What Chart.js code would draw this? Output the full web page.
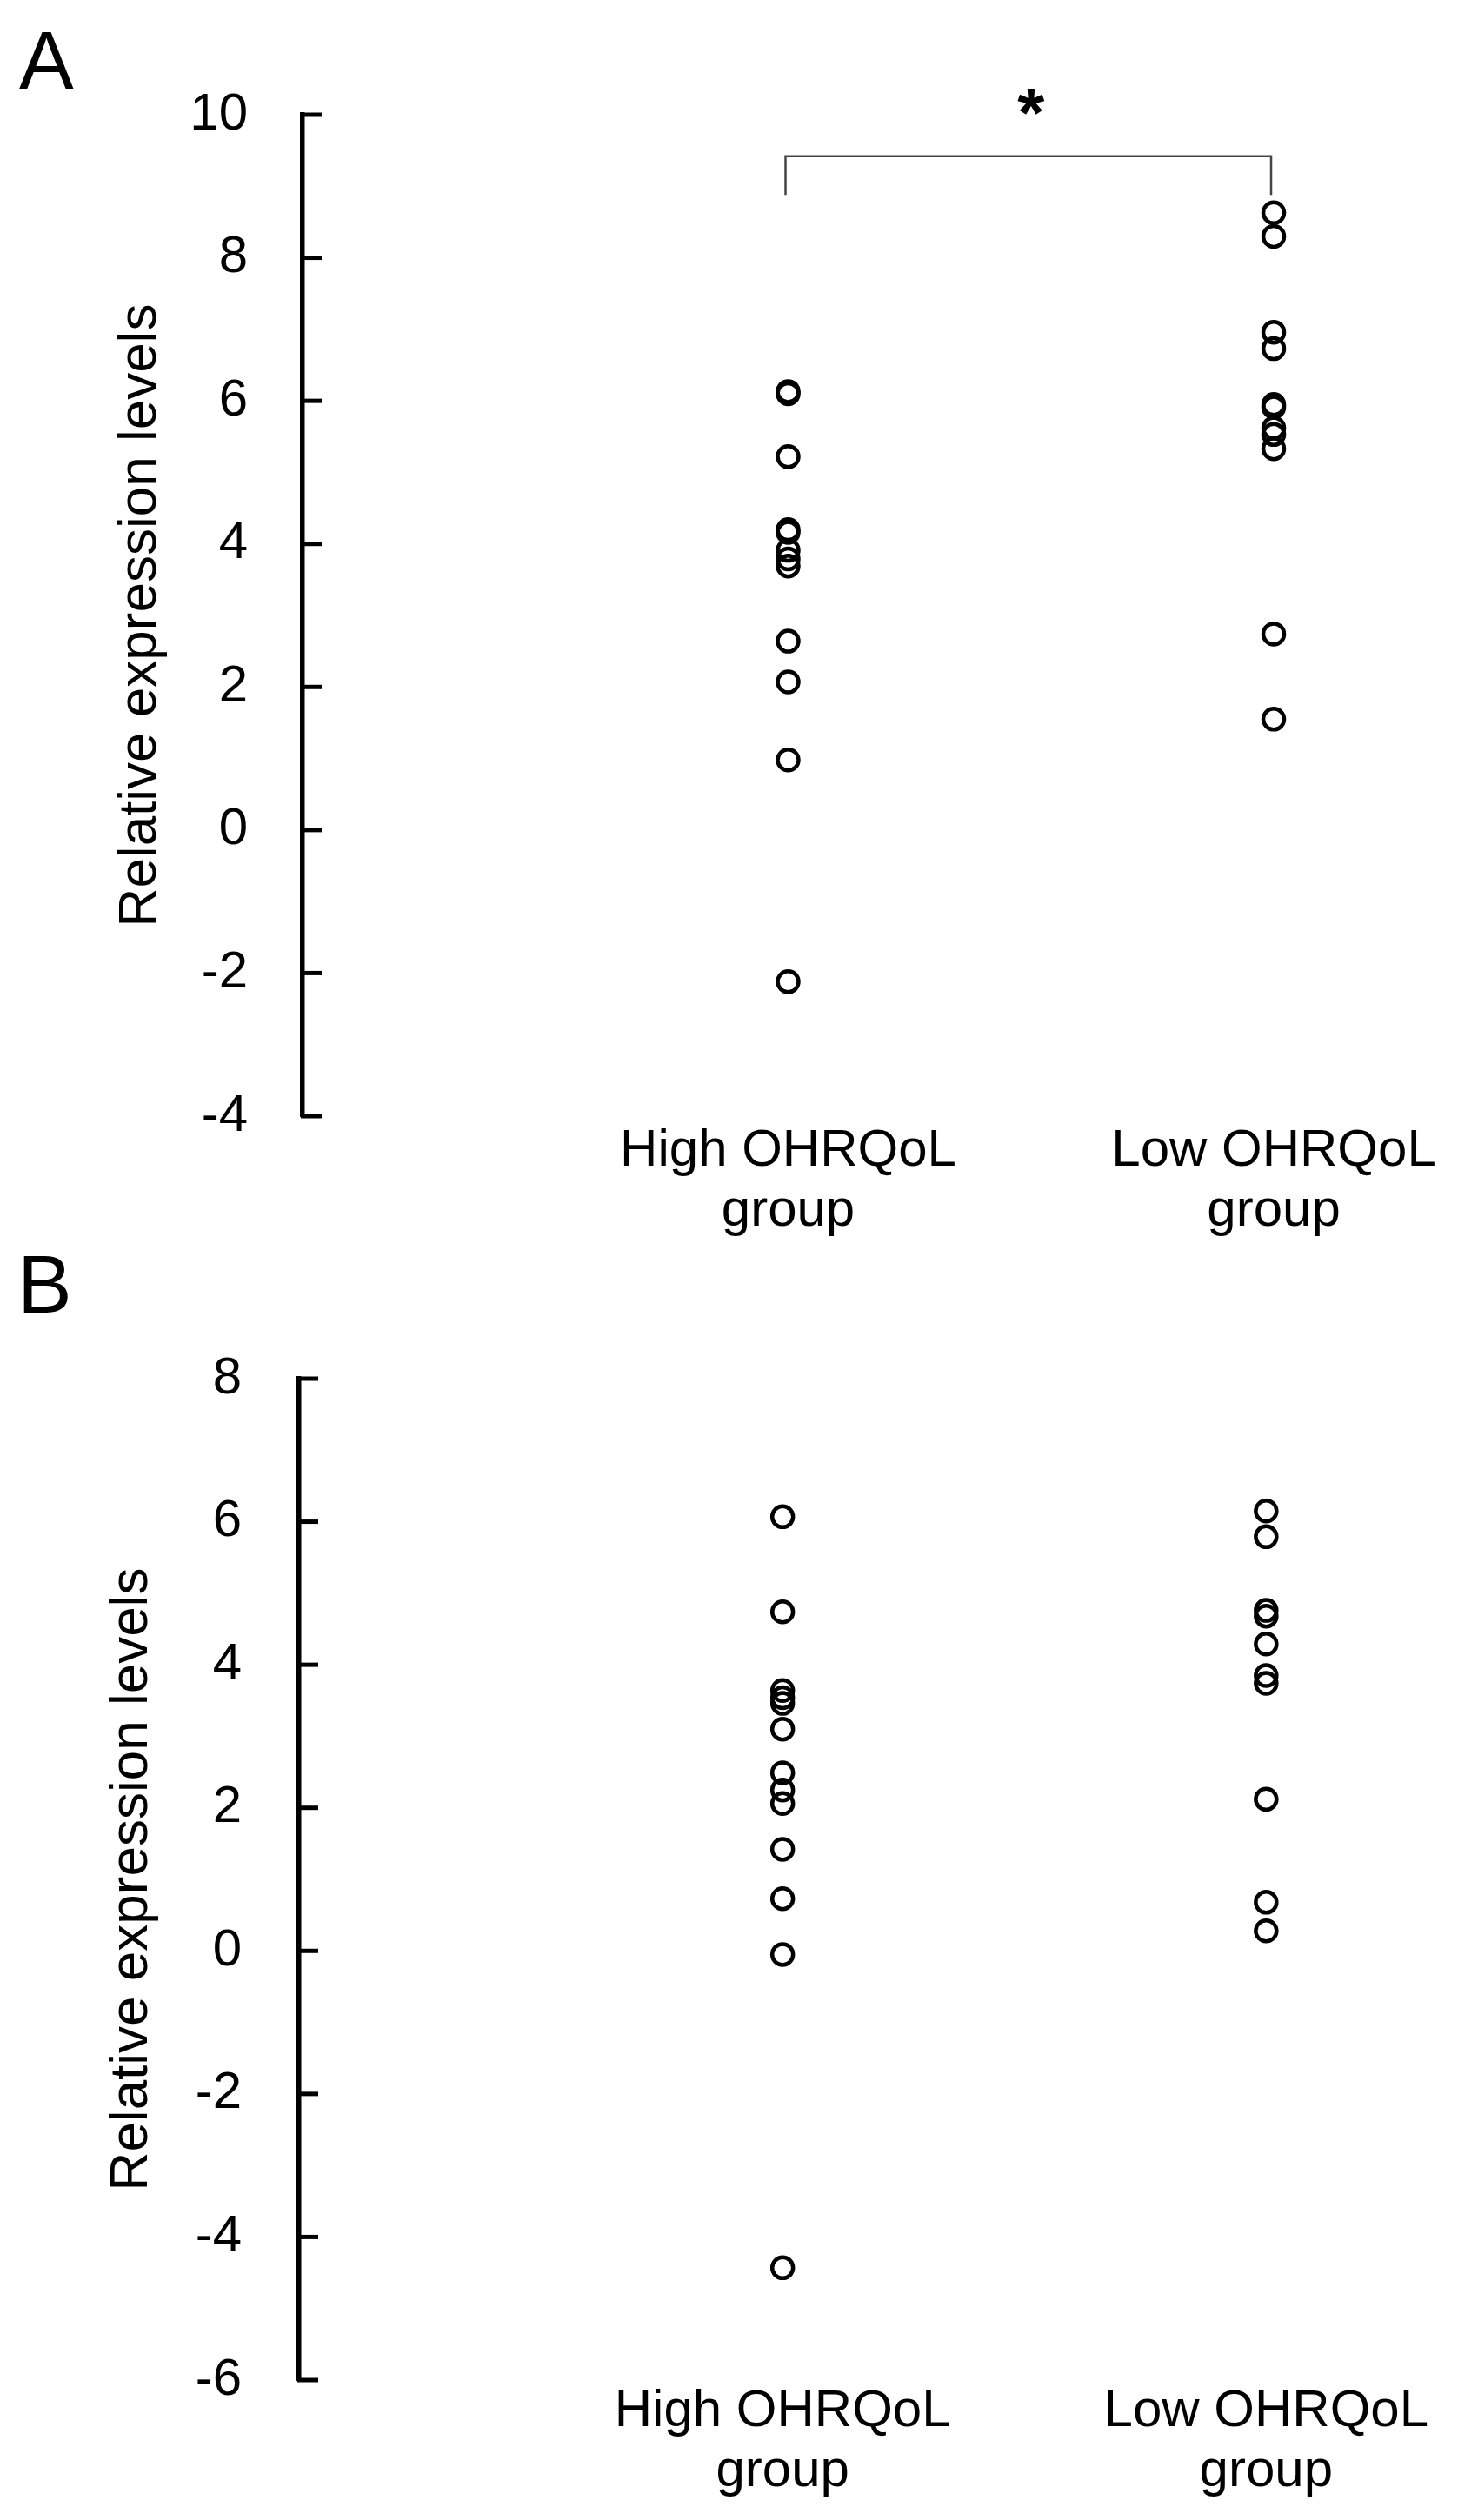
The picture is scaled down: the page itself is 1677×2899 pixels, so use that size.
<!DOCTYPE html>
<html lang="en">
<head>
<meta charset="UTF-8">
<title>Relative expression levels by OHRQoL group</title>
<script src="https://cdn.jsdelivr.net/npm/chart.js"></script>
<style>
  html, body { margin: 0; padding: 0; background: #fff; }
  canvas { display: block; }
</style>
</head>
<body>
<canvas id="chartA" width="1677" height="1440"></canvas>
<canvas id="chartB" width="1677" height="1459"></canvas>
<script>
// categories and labels
const groups = [['High OHRQoL', 'group'], ['Low OHRQoL', 'group']];
const yTitle = 'Relative expression levels';

// panel A values
const highA = [6.13, 6.10, 5.22, 4.20, 4.16, 3.91, 3.79, 3.69, 2.64, 2.07, 0.98, -2.12];
const lowA  = [8.63, 8.30, 6.96, 6.73, 5.95, 5.91, 5.62, 5.53, 5.33, 2.74, 1.55];
// panel B values
const highB = [6.07, 4.74, 3.64, 3.54, 3.46, 3.10, 2.49, 2.25, 2.06, 1.42, 0.73, -0.05, -4.43];
const lowB  = [6.15, 5.79, 4.76, 4.68, 4.29, 3.85, 3.74, 2.12, 0.68, 0.28];

// axis ranges
const rangeA = [-4, 10];
const rangeB = [-6, 8];
const tickStep = 2;

// significance bracket in panel A (data units)
const bracketLevel = 9.42, bracketLegEnd = 8.88, starLevel = 10.18, starText = '*';

const FONT = 'Liberation Sans, Arial, sans-serif';
Chart.defaults.font.family = FONT;
Chart.defaults.color = '#000';

// tick marks point inward, to the right of the axis
const inwardTicks = {
  id: 'inwardTicks',
  afterDraw(chart) {
    const {ctx, chartArea, scales: {y}} = chart;
    ctx.save();
    ctx.strokeStyle = '#000';
    ctx.lineWidth = 5;
    y.ticks.forEach(t => {
      const py = y.getPixelForValue(t.value);
      ctx.beginPath();
      ctx.moveTo(chartArea.left - 2, py);
      ctx.lineTo(chartArea.left + 22, py);
      ctx.stroke();
    });
    ctx.restore();
  }
};

const panelLetter = {
  id: 'panelLetter',
  afterDraw(chart, args, opts) {
    const ctx = chart.ctx;
    ctx.save();
    ctx.fillStyle = '#000';
    ctx.font = '94px ' + FONT;
    ctx.textBaseline = 'alphabetic';
    ctx.fillText(opts.text, opts.x, opts.y);
    ctx.restore();
  }
};

const sigBracket = {
  id: 'sigBracket',
  afterDraw(chart) {
    const {ctx, scales: {x, y}} = chart;
    const x1 = x.getPixelForValue(1), x2 = x.getPixelForValue(2);
    const yt = y.getPixelForValue(bracketLevel), yb = y.getPixelForValue(bracketLegEnd);
    ctx.save();
    ctx.strokeStyle = '#444';
    ctx.lineWidth = 2.5;
    ctx.beginPath();
    ctx.moveTo(x1 - 3, yb);
    ctx.lineTo(x1 - 3, yt);
    ctx.lineTo(x2 - 3, yt);
    ctx.lineTo(x2 - 3, yb);
    ctx.stroke();
    ctx.fillStyle = '#000';
    ctx.font = 'bold 80px ' + FONT;
    ctx.textAlign = 'center';
    ctx.textBaseline = 'alphabetic';
    const m = ctx.measureText(starText);
    const cy = y.getPixelForValue(starLevel);
    ctx.fillText(starText, (x1 + x2) / 2, cy + (m.actualBoundingBoxAscent - m.actualBoundingBoxDescent) / 2);
    ctx.restore();
  }
};

function buildChart(id, high, low, range, cfg, extra) {
  return new Chart(document.getElementById(id), {
    type: 'scatter',
    data: {
      datasets: [high, low].map((vals, i) => ({
        data: vals.map(v => ({x: i + 1, y: v})),
        pointStyle: 'circle',
        pointRadius: 12,
        pointHoverRadius: 12,
        pointBorderWidth: 4.5,
        pointBackgroundColor: 'rgba(0,0,0,0)',
        pointBorderColor: '#000',
        clip: false
      }))
    },
    options: {
      responsive: false,
      animation: false,
      devicePixelRatio: 1,
      events: [],
      layout: {padding: {left: cfg.padLeft, top: cfg.top, right: cfg.right, bottom: 0}},
      plugins: {
        legend: {display: false},
        tooltip: {enabled: false},
        panelLetter: cfg.letter
      },
      scales: {
        x: {
          type: 'linear', min: 0, max: 2.35,
          grid: {display: false, drawTicks: false},
          border: {display: false},
          afterBuildTicks: s => { s.ticks = groups.map((g, i) => ({value: i + 1})); },
          afterFit: s => { s.height = cfg.xHeight; },
          ticks: {
            callback: v => groups[v - 1],
            font: {size: 60, lineHeight: 1.15},
            padding: cfg.labelPad, maxRotation: 0, autoSkip: false
          }
        },
        y: {
          min: range[0], max: range[1],
          grid: {display: true, drawOnChartArea: false, drawTicks: false},
          border: {display: true, color: '#000', width: 5.5},
          afterFit: s => { s.width = cfg.axisX - cfg.padLeft; },
          ticks: {stepSize: tickStep, font: {size: 60}, padding: cfg.tickPad},
          title: {display: true, text: yTitle, font: {size: 62}, padding: {top: cfg.titlePad, bottom: 0}}
        }
      }
    },
    plugins: [inwardTicks, panelLetter].concat(extra)
  });
}

buildChart('chartA', highA, lowA, rangeA, {
  padLeft: 100, axisX: 348, tickPad: 63, titlePad: 25, top: 132, right: 8, xHeight: 156, labelPad: 6,
  letter: {text: 'A', x: 22, y: 102}
}, [sigBracket]);

buildChart('chartB', highB, lowB, rangeB, {
  padLeft: 90, axisX: 344, tickPad: 66, titlePad: 25, top: 146, right: 26, xHeight: 161, labelPad: 2,
  letter: {text: 'B', x: 20, y: 70}
}, []);
</script>
</body>
</html>
